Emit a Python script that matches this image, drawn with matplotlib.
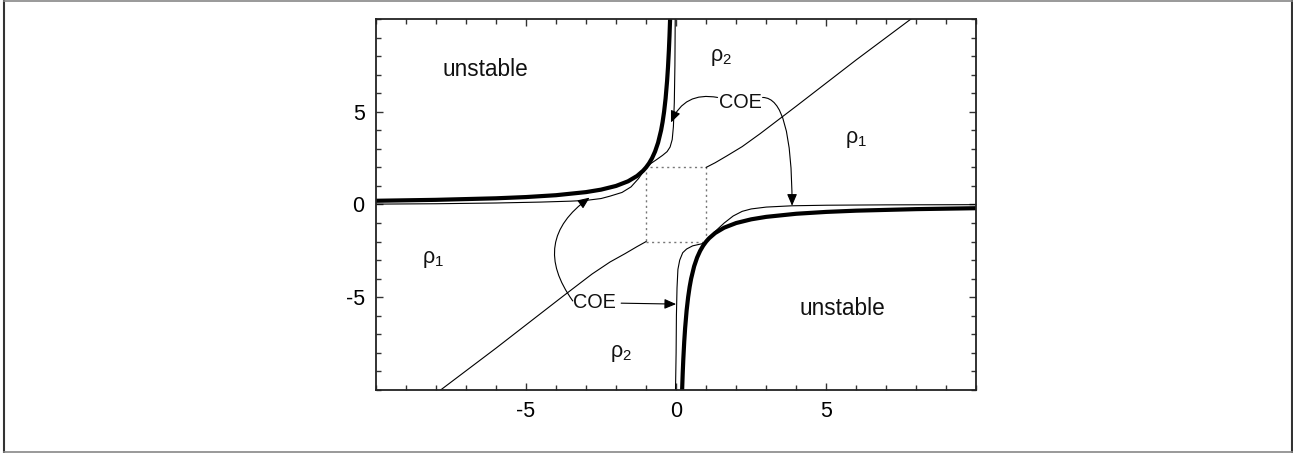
import matplotlib
matplotlib.use("Agg")
import matplotlib.pyplot as plt
from matplotlib.lines import Line2D
from matplotlib.ticker import MultipleLocator

plt.rcParams["font.family"] = ["Liberation Sans", "DejaVu Sans"]
plt.rcParams["mathtext.fontset"] = "custom"
plt.rcParams["mathtext.rm"] = "Liberation Sans"
plt.rcParams["mathtext.default"] = "regular"
plt.rcParams["axes.unicode_minus"] = False

# Stability boundary (thick), upper-left and lower-right branches
bound_ul_x = [-10, -8, -6, -5, -4, -3, -2.5, -2, -1.6, -1.3, -1.1, -1.0, -0.9, -0.8,
              -0.7, -0.6, -0.5, -0.45, -0.4, -0.35, -0.3, -0.27, -0.24, -0.22, -0.2]
bound_ul_y = [0.2, 0.25, 0.333, 0.4, 0.5, 0.667, 0.8, 1.0, 1.25, 1.538, 1.818, 2.0, 2.222, 2.5,
              2.857, 3.333, 4.0, 4.444, 5.0, 5.714, 6.667, 7.407, 8.333, 9.091, 10.0]
bound_lr_x = [10, 8, 6, 5, 4, 3, 2.5, 2, 1.6, 1.3, 1.1, 1.0, 0.9, 0.8,
              0.7, 0.6, 0.5, 0.45, 0.4, 0.35, 0.3, 0.27, 0.24, 0.22, 0.2]
bound_lr_y = [-0.2, -0.25, -0.333, -0.4, -0.5, -0.667, -0.8, -1.0, -1.25, -1.538, -1.818, -2.0, -2.222, -2.5,
              -2.857, -3.333, -4.0, -4.444, -5.0, -5.714, -6.667, -7.407, -8.333, -9.091, -10.0]

# Coexistence curves (thin)
coe_ul_x = [-10, -8, -6, -4.5, -3.5, -3.0, -2.5, -2.2, -1.8, -1.5, -1.25, -1.1, -1.0,
            -0.85, -0.65, -0.45, -0.3, -0.2, -0.13, -0.09, -0.06, -0.04, -0.03]
coe_ul_y = [0.02, 0.04, 0.08, 0.13, 0.18, 0.22, 0.32, 0.45, 0.65, 0.95, 1.4, 1.75, 2.0,
            2.2, 2.42, 2.65, 2.85, 3.1, 3.5, 4.2, 5.5, 7.5, 10.0]
coe_lr_x = [10, 7, 5, 3.86, 3.0, 2.5, 2.2, 1.9, 1.6, 1.3, 1.1, 1.0,
            0.85, 0.55, 0.35, 0.22, 0.12, 0.06, 0.03, 0.01, 0.0, -0.02]
coe_lr_y = [-0.01, -0.02, -0.04, -0.07, -0.14, -0.24, -0.37, -0.62, -1.0, -1.45, -1.78, -2.0,
            -2.12, -2.23, -2.4, -2.6, -3.0, -3.5, -4.5, -6.0, -8.0, -10.0]

# rho1 / rho2 divider
div_ur_x = [1.0, 1.3, 1.7, 2.2, 2.8, 4.0, 6.0, 7.82]
div_ur_y = [2.0, 2.25, 2.63, 3.12, 3.82, 5.3, 7.8, 10.0]
div_ll_x = [-1.0, -1.3, -1.7, -2.2, -2.8, -3.77, -6.0, -7.84]
div_ll_y = [-2.0, -2.27, -2.65, -3.1, -3.75, -4.95, -7.75, -10.0]

# Central box
box_x = [-1, 1, 1, -1, -1]
box_y = [-2, -2, 2, 2, -2]

fig = plt.figure(figsize=(12.93, 4.53), dpi=100)
ax = fig.add_axes([0.2906, 0.1391, 0.4646, 0.8190])

ax.plot(box_x, box_y, color="#777777", lw=1.0, ls=(0, (1.5, 2.5)))
ax.plot(div_ur_x, div_ur_y, color="black", lw=0.8)
ax.plot(div_ll_x, div_ll_y, color="black", lw=0.8)
ax.plot(coe_ul_x, coe_ul_y, color="black", lw=0.8)
ax.plot(coe_lr_x, coe_lr_y, color="black", lw=0.8)
ax.plot(bound_ul_x, bound_ul_y, color="black", lw=3.0, solid_capstyle="butt")
ax.plot(bound_lr_x, bound_lr_y, color="black", lw=3.0, solid_capstyle="butt")

ax.set_xlim(-10, 10)
ax.set_ylim(-10, 10)
ax.xaxis.set_major_locator(MultipleLocator(5))
ax.xaxis.set_minor_locator(MultipleLocator(1))
ax.yaxis.set_major_locator(MultipleLocator(5))
ax.yaxis.set_minor_locator(MultipleLocator(1))
ax.set_xticks([-5, 0, 5])
ax.set_yticks([-5, 0, 5])
ax.tick_params(which="both", direction="in", top=True, right=True, color="#333333",
               labelsize=15.5, pad=8)
ax.tick_params(which="major", length=5, width=1.0)
ax.tick_params(which="minor", length=3.5, width=1.0)
for sp in ax.spines.values():
    sp.set_color("#222222")
    sp.set_linewidth(1.3)

txt = dict(ha="center", va="center", fontsize=16.3, color="#111111")
ax.text(-6.35, 7.3, "unstable", **txt)
ax.text(5.54, -5.6, "unstable", **txt)
rho = dict(ha="center", va="center", fontsize=15.5, color="#111111")
ax.text(1.5, 7.9, "ρ$_2$", **rho)
ax.text(6.0, 3.5, "ρ$_1$", **rho)
ax.text(-8.1, -2.94, "ρ$_1$", **rho)
ax.text(-1.83, -8.05, "ρ$_2$", **rho)

coe = dict(ha="center", va="center", fontsize=14.3, color="#111111")
ax.text(2.13, 5.5, "COE", **coe)
ax.text(-2.72, -5.27, "COE", **coe)

arrow = dict(arrowstyle="-|>,head_length=0.7,head_width=0.3", color="black", lw=0.8,
             shrinkA=0, shrinkB=0)
ax.annotate("", xy=(-0.17, 4.42), xytext=(1.38, 5.77),
            arrowprops=dict(connectionstyle="arc3,rad=0.4", **arrow))
ax.annotate("", xy=(3.86, -0.07), xytext=(2.88, 5.77),
            arrowprops=dict(connectionstyle="angle3,angleA=0,angleB=90", **arrow))
ax.annotate("", xy=(0.0, -5.37), xytext=(-1.83, -5.32),
            arrowprops=dict(connectionstyle="arc3,rad=0", **arrow))
ax.annotate("", xy=(-2.88, 0.37), xytext=(-3.44, -5.2),
            arrowprops=dict(connectionstyle="arc3,rad=-0.5", **arrow))

# outer frame
W, H = 1293, 453
fig.add_artist(Line2D([4 / W, 4 / W], [0, 1], color="#333333", lw=1.5))
fig.add_artist(Line2D([1291.5 / W, 1291.5 / W], [0, 1], color="#333333", lw=1.5))
fig.add_artist(Line2D([4 / W, 1291.5 / W], [1 - 0.8 / H, 1 - 0.8 / H], color="#888888", lw=1.2))
fig.add_artist(Line2D([4 / W, 1291.5 / W], [1.2 / H, 1.2 / H], color="#888888", lw=1.2))

fig.savefig("out.png", dpi=100)
